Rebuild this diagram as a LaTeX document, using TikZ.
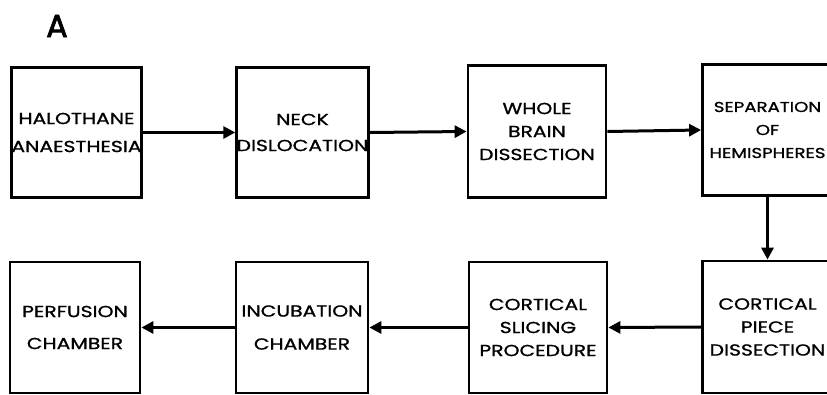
\documentclass[tikz,border=0pt]{standalone}
\usepackage{fontspec}
\setmainfont{Poppins}
\newfontfamily\boxfont[FakeStretch=1.27,FakeBold=1.1]{Poppins}
\newfontfamily\labfont[FakeBold=2.5]{Poppins}
\usetikzlibrary{arrows.meta}
\begin{document}
\begin{tikzpicture}[x=1pt,y=-1pt,
  stepbox/.style={draw,line width=2.8pt,minimum width=130pt,minimum height=130pt,
    inner sep=0pt,align=center,font=\boxfont\fontsize{16}{23}\selectfont},
  flow/.style={line width=3pt,-{Triangle[length=12pt,width=12pt]}}]
\useasboundingbox (0,0) rectangle (827,395);
\node[font=\labfont\fontsize{32}{36}\selectfont] (lab) at (57,26) {A};
% top row
\node[stepbox] (b1) at (76.5,132.5) {HALOTHANE\\[5pt]ANAESTHESIA};
\node[stepbox] (b2) at (302.5,132.5) {NECK\\[3pt]DISLOCATION};
\node[stepbox,minimum width=138pt,minimum height=132pt] (b3) at (537,131.5) {WHOLE\\BRAIN\\DISSECTION};
\node[stepbox,minimum height=131pt,font=\boxfont\fontsize{14.3}{23}\selectfont] (b4) at (767.5,130) {SEPARATION\\OF\\HEMISPHERES};
% bottom row
\node[stepbox,minimum height=131pt] (b5) at (75,327.5) {PERFUSION\\[9pt]CHAMBER};
\node[stepbox,minimum width=132pt,minimum height=131pt] (b6) at (302,327.5) {INCUBATION\\[10pt]CHAMBER};
\node[stepbox,minimum width=138pt,minimum height=131pt] (b7) at (538,327.5) {CORTICAL\\SLICING\\PROCEDURE};
\node[stepbox,minimum height=132pt] (b8) at (767.5,327) {CORTICAL\\PIECE\\DISSECTION};
% connectors
\draw[flow] (b1.east) -- (b2.west);
\draw[flow] (b2.east) -- (b3.west);
\draw[flow] (b3.east) -- (b4.west);
\draw[flow] (b4.south) -- (b4.south |- b8.north);
\draw[flow] (b8.west) -- (b7.east);
\draw[flow] (b7.west) -- (b6.east);
\draw[flow] (b6.west) -- (b5.east);
\end{tikzpicture}
\end{document}
